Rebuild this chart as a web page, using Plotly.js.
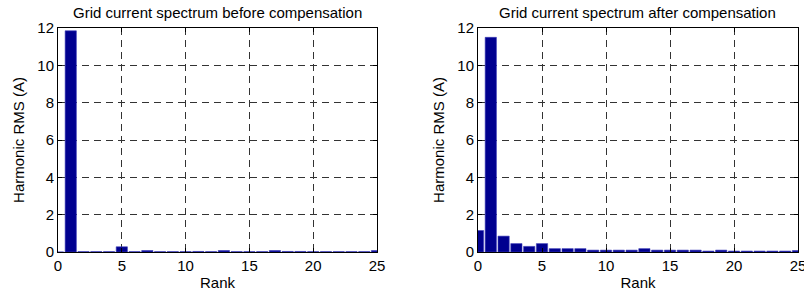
<!DOCTYPE html>
<html>
<head>
<meta charset="utf-8">
<script src="https://cdn.plot.ly/plotly-3.0.1.min.js"></script>
<style>html,body{margin:0;padding:0;background:#fff;}#chart{width:804px;height:297px;}</style>
</head>
<body>
<div id="chart"></div>
<script>
const ranks = [0,1,2,3,4,5,6,7,8,9,10,11,12,13,14,15,16,17,18,19,20,21,22,23,24,25];
const before = [0,11.85,0.02,0.02,0.02,0.28,0.02,0.08,0.02,0.02,0.02,0.03,0.02,0.08,0.02,0.02,0.02,0.08,0.03,0.03,0.02,0.02,0.02,0.02,0.02,0.08];
const after = [1.15,11.5,0.85,0.45,0.3,0.45,0.18,0.18,0.18,0.1,0.1,0.1,0.1,0.18,0.1,0.1,0.1,0.1,0.05,0.1,0.05,0.05,0.05,0.05,0.05,0.08];
const titles = ['Grid current spectrum before compensation','Grid current spectrum after compensation'];
const xTitle = 'Rank';
const yTitle = 'Harmonic RMS (A)';
const xTicks = [0,5,10,15,20,25];
const yTicks = [0,2,4,6,8,10,12];

const W = 804, H = 297;
const font = {family: 'Arial, "Liberation Sans", sans-serif', size: 15, color: '#000'};
const barStyle = {color: '#00008f', line: {color: '#3a3ab8', width: 0.6}};

const traces = [
  {type: 'bar', x: ranks, y: before, width: 0.88, marker: barStyle, xaxis: 'x', yaxis: 'y', hoverinfo: 'x+y'},
  {type: 'bar', x: ranks, y: after, width: 0.88, marker: barStyle, xaxis: 'x2', yaxis: 'y2', hoverinfo: 'x+y'}
];

function xa(domain, anchor) {
  return {
    domain: domain, anchor: anchor, range: [0, 25], tickvals: xTicks, ticks: 'inside', ticklen: 4,
    tickcolor: '#000', showline: true, linecolor: '#000', linewidth: 1, mirror: 'ticks',
    showgrid: true, gridcolor: '#333', griddash: '7px,5px', gridwidth: 1, zeroline: false,
    ticklabeloverflow: 'allow',
    tickfont: font, title: {text: xTitle, font: font, standoff: 4}
  };
}
function ya(anchor) {
  return {
    domain: [45/H, 269/H], anchor: anchor, range: [0, 12], tickvals: yTicks, ticks: 'inside', ticklen: 4,
    tickcolor: '#000', showline: true, linecolor: '#000', linewidth: 1, mirror: 'ticks',
    showgrid: true, gridcolor: '#333', griddash: '7px,5px', gridwidth: 1, zeroline: false,
    tickfont: font, title: {text: yTitle, font: font, standoff: 9}
  };
}

const layout = {
  width: W, height: H,
  margin: {l: 0, r: 0, t: 0, b: 0},
  paper_bgcolor: '#fff', plot_bgcolor: '#fff',
  showlegend: false, bargap: 0,
  font: font,
  xaxis: xa([58/W, 377/W], 'y'),
  yaxis: ya('x'),
  xaxis2: xa([478/W, 798/W], 'y2'),
  yaxis2: ya('x2'),
  annotations: [
    {text: titles[0], xref: 'paper', yref: 'paper', x: 217.5/W, y: 1 - 12/H, xanchor: 'center', yanchor: 'middle', showarrow: false, font: font},
    {text: titles[1], xref: 'paper', yref: 'paper', x: 637/W, y: 1 - 12/H, xanchor: 'center', yanchor: 'middle', showarrow: false, font: font}
  ]
};

Plotly.newPlot('chart', traces, layout, {staticPlot: true, displayModeBar: false});
</script>
</body>
</html>
